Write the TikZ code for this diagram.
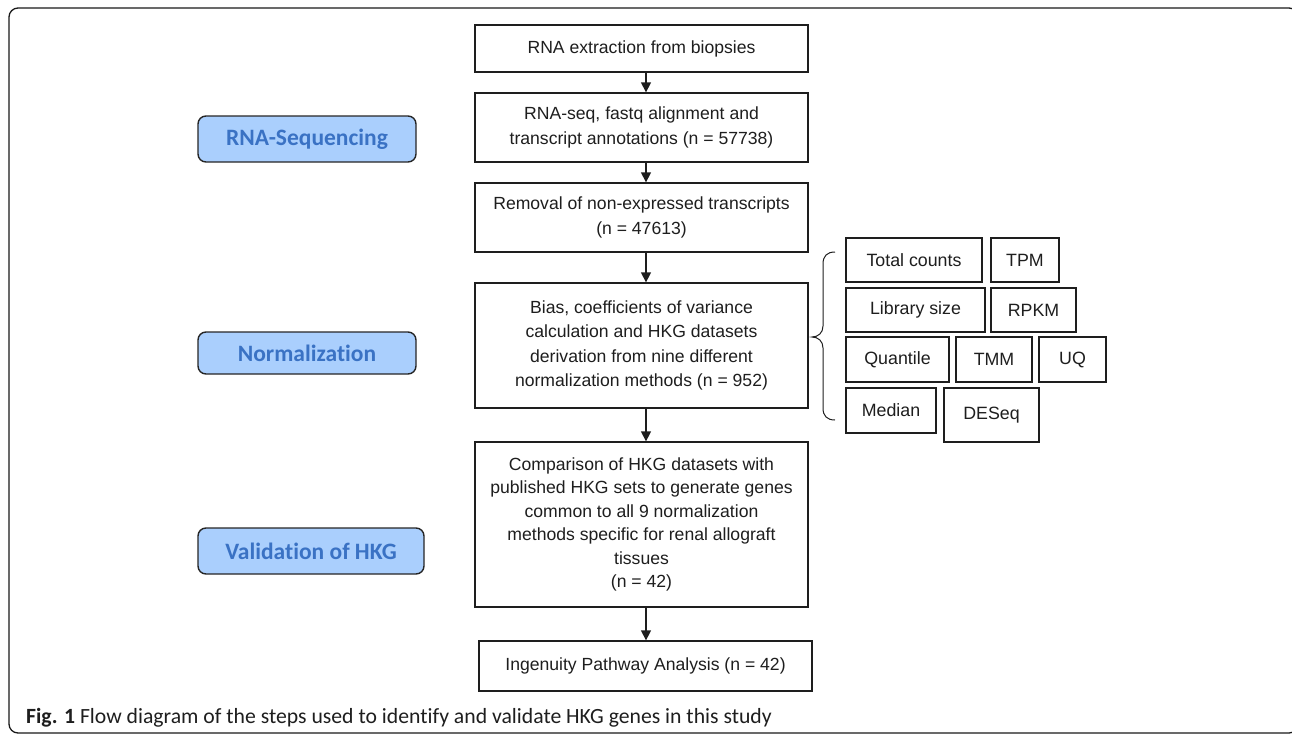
\documentclass[tikz,border=0pt]{standalone}
\usepackage{fontspec}
\setmainfont{Liberation Sans}
\newfontfamily\carlito[Ligatures=NoCommon]{Carlito}
\usetikzlibrary{arrows.meta}
\definecolor{labfill}{RGB}{170,207,253}
\definecolor{labtext}{RGB}{58,114,196}
\definecolor{ink}{RGB}{30,30,30}
\begin{document}
\begin{tikzpicture}[x=1pt,y=-1pt,
  box/.style={draw=ink, line width=1.3pt, fill=white, inner sep=0pt, align=center,
    text=ink, font=\fontsize{17.6}{24.5}\selectfont},
  mbox/.style={box, font=\fontsize{17.8}{22}\selectfont},
  lab/.style={draw=black!85, line width=1.4pt, rounded corners=8pt, fill=labfill,
    text=labtext, inner sep=0pt, font=\carlito\bfseries\fontsize{23.5}{28}\selectfont},
  arr/.style={draw=ink, line width=1.3pt, -{Triangle[length=10pt,width=10pt]}},
  frame/.style={draw=black!90, line width=1.3pt, rounded corners=9pt}
]
\useasboundingbox (0,0) rectangle (1292,736);
\draw[frame] (9,8) rectangle (1298,733);

% main column
\node[box, minimum width=333, minimum height=47] (b1) at (641.5,48.5) {RNA extraction from biopsies};
\node[box, minimum width=333, minimum height=69] (b2) at (641.5,127.5) {RNA-seq, fastq alignment and\\transcript annotations (n = 57738)};
\node[box, minimum width=333, minimum height=69] (b3) at (641.5,217.5) {Removal of non-expressed transcripts\\(n = 47613)};
\node[box, minimum width=333, minimum height=125] (b4) at (641.5,345.5) {Bias, coefficients of variance\\calculation and HKG datasets\\derivation from nine different\\normalization methods (n = 952)};
\node[box, minimum width=333, minimum height=165, font=\fontsize{17.6}{23.4}\selectfont] (b5) at (641.5,524.5) {Comparison of HKG datasets with\\published HKG sets to generate genes\\common to all 9 normalization\\methods specific for renal allograft\\tissues\\(n = 42)};
\node[box, minimum width=333, minimum height=50] (b6) at (645.5,666) {Ingenuity Pathway Analysis (n = 42)};

\coordinate (ax) at (646,0);
\draw[arr] (b1.south -| ax) -- (b2.north -| ax);
\draw[arr] (b2.south -| ax) -- (b3.north -| ax);
\draw[arr] (b3.south -| ax) -- (b4.north -| ax);
\draw[arr] (b4.south -| ax) -- (b5.north -| ax);
\draw[arr] (b5.south -| ax) -- (b6.north -| ax);

% left labels
\node[lab, minimum width=218, minimum height=46] (l1) at (307,139) {RNA-Sequencing};
\node[lab, minimum width=218, minimum height=42] (l2) at (307,353) {Normalization};
\node[lab, minimum width=226, minimum height=46] (l3) at (311,551) {Validation of HKG};

% methods
\node[mbox, minimum width=136, minimum height=44] (m1) at (914,260) {Total counts};
\node[mbox, minimum width=68, minimum height=44] (m2) at (1025,260) {TPM};
\node[mbox, minimum width=139, minimum height=44] (m3) at (915.5,310) {Library size};
\node[mbox, minimum width=85, minimum height=44] (m4) at (1033.5,310) {RPKM};
\node[mbox, minimum width=103, minimum height=45] (m5) at (897.5,359.5) {Quantile};
\node[mbox, minimum width=76, minimum height=45] (m6) at (994,359.5) {TMM};
\node[mbox, minimum width=67, minimum height=45] (m7) at (1072.5,359.5) {UQ};
\node[mbox, minimum width=90, minimum height=45] (m8) at (891,410.5) {Median};
\node[mbox, minimum width=95, minimum height=54] (m9) at (991.5,415) {DESeq};

% brace
\draw[draw=ink, line width=1pt] (835,252) .. controls (827,252) and (823,256) .. (823,264)
  -- (823,326) .. controls (823,333) and (818,337) .. (812,337)
  .. controls (818,337) and (823,341) .. (823,348)
  -- (823,408) .. controls (823,416) and (827,420) .. (835,420);

% caption
\node[anchor=base west, inner sep=0pt, text=ink, font=\carlito\fontsize{21.7}{26}\selectfont] (cap) at (26,723)
  {\textbf{Fig. 1} Flow diagram of the steps used to identify and validate HKG genes in this study};
\end{tikzpicture}
\end{document}
